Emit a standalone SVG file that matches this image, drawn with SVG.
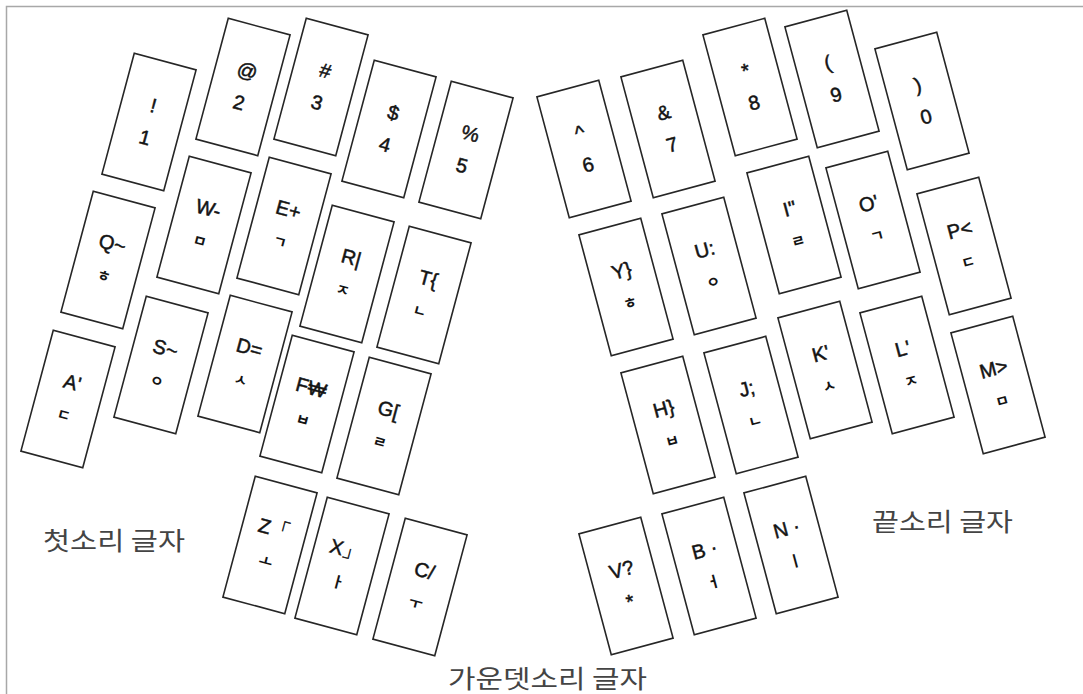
<svg xmlns="http://www.w3.org/2000/svg" width="1083" height="694" viewBox="0 0 1083 694">
<style>
.kr{fill:#fff;stroke:#262626;stroke-width:1.6}
.t{font-family:"Liberation Sans",Arial,sans-serif;font-size:20px;fill:#141414;stroke:#141414;stroke-width:0.5;text-anchor:middle}
.j{font-family:"Noto Sans CJK KR","Noto Sans CJK SC",sans-serif;font-size:15px;font-weight:700;fill:#141414;text-anchor:middle}
.lab{font-family:"Noto Sans CJK KR","Noto Sans CJK SC",sans-serif;font-size:25px;fill:#444}
</style>
<defs>
<rect id="kr" class="kr" x="-32" y="-62.5" width="64" height="125" fill="#fff" stroke="#262626" stroke-width="1.6"/>
</defs>
<rect width="1083" height="694" fill="#fff"/>
<path d="M6.5,694 V6.5 H1083" fill="none" stroke="#a8a8a8" stroke-width="1.5"/>

<!-- left hand -->
<g id="k1" transform="translate(149,122) rotate(15)"><use href="#kr"/><text class="t" y="-10">!</text><text class="t" y="23">1</text></g>
<g id="k2" transform="translate(243,87) rotate(15)"><use href="#kr"/><text class="t" y="-10">@</text><text class="t" y="23">2</text></g>
<g id="k3" transform="translate(321,87) rotate(15)"><use href="#kr"/><text class="t" y="-10">#</text><text class="t" y="23">3</text></g>
<g id="k4" transform="translate(389,129) rotate(15)"><use href="#kr"/><text class="t" y="-10">$</text><text class="t" y="23">4</text></g>
<g id="k5" transform="translate(466,150) rotate(15)"><use href="#kr"/><text class="t" y="-10">%</text><text class="t" y="23">5</text></g>

<g id="kQ" transform="translate(108,260) rotate(15)"><use href="#kr"/><text class="t" y="-10">Q~</text><text class="j" y="22">ㅎ</text></g>
<g id="kW" transform="translate(204,225) rotate(15)"><use href="#kr"/><text class="t" y="-10">W-</text><text class="j" y="22">ㅁ</text></g>
<g id="kE" transform="translate(284,226) rotate(15)"><use href="#kr"/><text class="t" y="-10">E+</text><text class="j" y="22">ㄱ</text></g>
<g id="kR" transform="translate(347,274) rotate(15)"><use href="#kr"/><text class="t" y="-10">R|</text><text class="j" y="22">ㅈ</text></g>
<g id="kT" transform="translate(424,295) rotate(15)"><use href="#kr"/><text class="t" y="-10">T{</text><text class="j" y="22">ㄴ</text></g>

<g id="kA" transform="translate(68,399) rotate(15)"><use href="#kr"/><text class="t" y="-10">A'</text><text class="j" y="22">ㄷ</text></g>
<g id="kS" transform="translate(161,365) rotate(15)"><use href="#kr"/><text class="t" y="-10">S~</text><text class="j" y="22">ㅇ</text></g>
<g id="kD" transform="translate(245,364) rotate(15)"><use href="#kr"/><text class="t" y="-10">D=</text><text class="j" y="22">ㅅ</text></g>
<g id="kF" transform="translate(307,404) rotate(15)"><use href="#kr"/><text class="t" y="-10">F₩</text><text class="j" y="22">ㅂ</text></g>
<g id="kG" transform="translate(384,426) rotate(15)"><use href="#kr"/><text class="t" y="-10">G[</text><text class="j" y="22">ㄹ</text></g>

<g id="kZ" transform="translate(270,545) rotate(15)"><use href="#kr"/><text class="t" y="-10">Z「</text><text class="j" y="22">ㅗ</text></g>
<g id="kX" transform="translate(342,566) rotate(15)"><use href="#kr"/><text class="t" y="-10">X」</text><text class="j" y="22">ㅏ</text></g>
<g id="kC" transform="translate(420,587) rotate(15)"><use href="#kr"/><text class="t" y="-10">C/</text><text class="j" y="22">ㅜ</text></g>

<!-- right hand -->
<g id="k6" transform="translate(584,149) rotate(-15)"><use href="#kr"/><text class="t" y="-10">^</text><text class="t" y="23">6</text></g>
<g id="k7" transform="translate(668,129) rotate(-15)"><use href="#kr"/><text class="t" y="-10">&amp;</text><text class="t" y="23">7</text></g>
<g id="k8" transform="translate(750,87) rotate(-15)"><use href="#kr"/><text class="t" y="-10">*</text><text class="t" y="23">8</text></g>
<g id="k9" transform="translate(832,79) rotate(-15)"><use href="#kr"/><text class="t" y="-10">(</text><text class="t" y="23">9</text></g>
<g id="k0" transform="translate(922,101) rotate(-15)"><use href="#kr"/><text class="t" y="-10">)</text><text class="t" y="23">0</text></g>

<g id="kY" transform="translate(626,287) rotate(-15)"><use href="#kr"/><text class="t" y="-10">Y}</text><text class="j" y="22">ㅎ</text></g>
<g id="kU" transform="translate(709,266) rotate(-15)"><use href="#kr"/><text class="t" y="-10">U:</text><text class="j" y="22">ㅇ</text></g>
<g id="kI" transform="translate(794,225) rotate(-15)"><use href="#kr"/><text class="t" y="-10">I"</text><text class="j" y="22">ㄹ</text></g>
<g id="kO" transform="translate(873,220) rotate(-15)"><use href="#kr"/><text class="t" y="-10">O'</text><text class="j" y="22">ㄱ</text></g>
<g id="kP" transform="translate(964,246) rotate(-15)"><use href="#kr"/><text class="t" y="-10">P&lt;</text><text class="j" y="22">ㄷ</text></g>

<g id="kH" transform="translate(668,425) rotate(-15)"><use href="#kr"/><text class="t" y="-10">H}</text><text class="j" y="22">ㅂ</text></g>
<g id="kJ" transform="translate(751,405) rotate(-15)"><use href="#kr"/><text class="t" y="-10">J;</text><text class="j" y="22">ㄴ</text></g>
<g id="kK" transform="translate(825,370) rotate(-15)"><use href="#kr"/><text class="t" y="-10">K'</text><text class="j" y="22">ㅅ</text></g>
<g id="kL" transform="translate(907,365) rotate(-15)"><use href="#kr"/><text class="t" y="-10">L'</text><text class="j" y="22">ㅈ</text></g>
<g id="kM" transform="translate(998,385) rotate(-15)"><use href="#kr"/><text class="t" y="-10">M&gt;</text><text class="j" y="22">ㅁ</text></g>

<g id="kV" transform="translate(626,586) rotate(-15)"><use href="#kr"/><text class="t" y="-10">V?</text><text class="t" y="23">*</text></g>
<g id="kB" transform="translate(709,566) rotate(-15)"><use href="#kr"/><text class="t" y="-10">B ·</text><text class="j" y="22">ㅓ</text></g>
<g id="kN" transform="translate(791,545) rotate(-15)"><use href="#kr"/><text class="t" y="-10">N ·</text><text class="j" y="22">ㅣ</text></g>

<g id="labels">
<text class="lab" x="43" y="550" textLength="142" lengthAdjust="spacingAndGlyphs">첫소리 글자</text>
<text class="lab" x="872" y="531" textLength="141" lengthAdjust="spacingAndGlyphs">끝소리 글자</text>
<text class="lab" x="448" y="688" textLength="199" lengthAdjust="spacingAndGlyphs">가운뎃소리 글자</text>
</g>
</svg>
